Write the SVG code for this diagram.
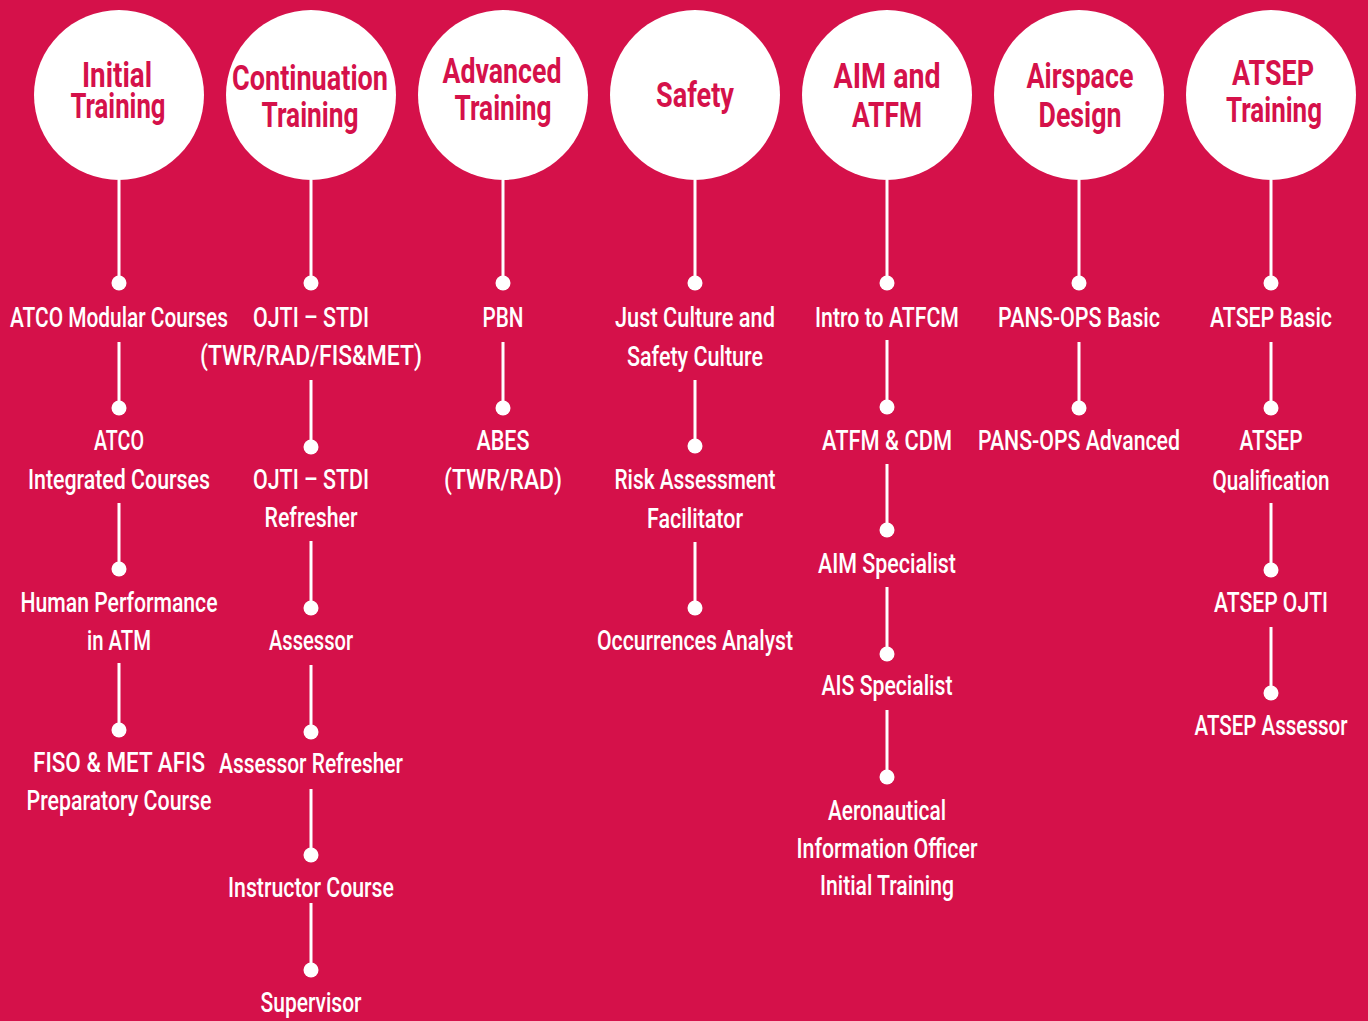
<svg xmlns="http://www.w3.org/2000/svg" width="1368" height="1021" viewBox="0 0 1368 1021">
<style>
.bg{fill:#D5114A}
.hc{fill:#FFFFFF}
.ht{font-family:Roboto,"Liberation Sans",sans-serif;font-weight:700;font-size:35px;fill:#D5114A;text-anchor:middle}
.it{font-family:Roboto,"Liberation Sans",sans-serif;font-weight:500;font-size:28px;fill:#FFFFFF;text-anchor:middle}
.ln{stroke:#FFFFFF;stroke-width:3;fill:none}
.dt{fill:#FFFFFF}
</style>
<rect class="bg" x="0" y="0" width="1368" height="1021"/>
<g id="connectors">
<path class="ln" d="M119 180V283M119 342V408M119 503V569M119 663V730"/>
<path class="ln" d="M311 180V283M311 380V447M311 541V608M311 665V732M311 789V855M311 903V970"/>
<path class="ln" d="M503 180V283M503 342V408"/>
<path class="ln" d="M695 180V283M695 380V446M695 542V608"/>
<path class="ln" d="M887 180V283M887 340V407M887 464V530M887 587V654M887 710V777"/>
<path class="ln" d="M1079 180V283M1079 342V408"/>
<path class="ln" d="M1271 180V283M1271 342V408M1271 503V570M1271 627V693"/>
</g>
<g id="h-initial"><circle class="hc" cx="119" cy="95" r="85"/>
<text class="ht" x="117" y="87" textLength="70" lengthAdjust="spacingAndGlyphs">Initial</text>
<text class="ht" x="118" y="118" textLength="95" lengthAdjust="spacingAndGlyphs">Training</text></g>
<g id="h-continuation"><circle class="hc" cx="311" cy="95" r="85"/>
<text class="ht" x="310" y="90" textLength="156" lengthAdjust="spacingAndGlyphs">Continuation</text>
<text class="ht" x="310" y="127" textLength="97" lengthAdjust="spacingAndGlyphs">Training</text></g>
<g id="h-advanced"><circle class="hc" cx="503" cy="95" r="85"/>
<text class="ht" x="502" y="83" textLength="119" lengthAdjust="spacingAndGlyphs">Advanced</text>
<text class="ht" x="503" y="120" textLength="97" lengthAdjust="spacingAndGlyphs">Training</text></g>
<g id="h-safety"><circle class="hc" cx="695" cy="95" r="85"/>
<text class="ht" x="695" y="107" textLength="78" lengthAdjust="spacingAndGlyphs">Safety</text></g>
<g id="h-aim"><circle class="hc" cx="887" cy="95" r="85"/>
<text class="ht" x="887" y="88" textLength="107" lengthAdjust="spacingAndGlyphs">AIM and</text>
<text class="ht" x="887" y="127" textLength="70" lengthAdjust="spacingAndGlyphs">ATFM</text></g>
<g id="h-airspace"><circle class="hc" cx="1079" cy="95" r="85"/>
<text class="ht" x="1080" y="88" textLength="107" lengthAdjust="spacingAndGlyphs">Airspace</text>
<text class="ht" x="1080" y="127" textLength="83" lengthAdjust="spacingAndGlyphs">Design</text></g>
<g id="h-atsep"><circle class="hc" cx="1271" cy="95" r="85"/>
<text class="ht" x="1273" y="85" textLength="82" lengthAdjust="spacingAndGlyphs">ATSEP</text>
<text class="ht" x="1274" y="122" textLength="96" lengthAdjust="spacingAndGlyphs">Training</text></g>

<g id="i-atco-modular"><circle class="dt" cx="119" cy="283" r="7.5"/>
<text class="it" x="119" y="327" textLength="218" lengthAdjust="spacingAndGlyphs">ATCO Modular Courses</text></g>
<g id="i-atco-integrated"><circle class="dt" cx="119" cy="408" r="7.5"/>
<text class="it" x="119" y="450" textLength="50" lengthAdjust="spacingAndGlyphs">ATCO</text>
<text class="it" x="119" y="489" textLength="182" lengthAdjust="spacingAndGlyphs">Integrated Courses</text></g>
<g id="i-human"><circle class="dt" cx="119" cy="569" r="7.5"/>
<text class="it" x="119" y="612" textLength="197" lengthAdjust="spacingAndGlyphs">Human Performance</text>
<text class="it" x="119" y="650" textLength="64" lengthAdjust="spacingAndGlyphs">in ATM</text></g>
<g id="i-fiso"><circle class="dt" cx="119" cy="730" r="7.5"/>
<text class="it" x="119" y="772" textLength="172" lengthAdjust="spacingAndGlyphs">FISO &amp; MET AFIS</text>
<text class="it" x="119" y="810" textLength="185" lengthAdjust="spacingAndGlyphs">Preparatory Course</text></g>

<g id="i-ojti"><circle class="dt" cx="311" cy="283" r="7.5"/>
<text class="it" x="311" y="327" textLength="116" lengthAdjust="spacingAndGlyphs">OJTI – STDI</text>
<text class="it" x="311" y="365" textLength="222" lengthAdjust="spacingAndGlyphs">(TWR/RAD/FIS&amp;MET)</text></g>
<g id="i-ojti-refresher"><circle class="dt" cx="311" cy="447" r="7.5"/>
<text class="it" x="311" y="489" textLength="116" lengthAdjust="spacingAndGlyphs">OJTI – STDI</text>
<text class="it" x="311" y="527" textLength="93" lengthAdjust="spacingAndGlyphs">Refresher</text></g>
<g id="i-assessor"><circle class="dt" cx="311" cy="608" r="7.5"/>
<text class="it" x="311" y="650" textLength="84" lengthAdjust="spacingAndGlyphs">Assessor</text></g>
<g id="i-assessor-refresher"><circle class="dt" cx="311" cy="732" r="7.5"/>
<text class="it" x="311" y="773" textLength="184" lengthAdjust="spacingAndGlyphs">Assessor Refresher</text></g>
<g id="i-instructor"><circle class="dt" cx="311" cy="855" r="7.5"/>
<text class="it" x="311" y="897" textLength="166" lengthAdjust="spacingAndGlyphs">Instructor Course</text></g>
<g id="i-supervisor"><circle class="dt" cx="311" cy="970" r="7.5"/>
<text class="it" x="311" y="1012" textLength="101" lengthAdjust="spacingAndGlyphs">Supervisor</text></g>

<g id="i-pbn"><circle class="dt" cx="503" cy="283" r="7.5"/>
<text class="it" x="503" y="327" textLength="41" lengthAdjust="spacingAndGlyphs">PBN</text></g>
<g id="i-abes"><circle class="dt" cx="503" cy="408" r="7.5"/>
<text class="it" x="503" y="450" textLength="53" lengthAdjust="spacingAndGlyphs">ABES</text>
<text class="it" x="503" y="489" textLength="118" lengthAdjust="spacingAndGlyphs">(TWR/RAD)</text></g>

<g id="i-just"><circle class="dt" cx="695" cy="283" r="7.5"/>
<text class="it" x="695" y="327" textLength="160" lengthAdjust="spacingAndGlyphs">Just Culture and</text>
<text class="it" x="695" y="366" textLength="136" lengthAdjust="spacingAndGlyphs">Safety Culture</text></g>
<g id="i-risk"><circle class="dt" cx="695" cy="446" r="7.5"/>
<text class="it" x="695" y="489" textLength="161" lengthAdjust="spacingAndGlyphs">Risk Assessment</text>
<text class="it" x="695" y="528" textLength="96" lengthAdjust="spacingAndGlyphs">Facilitator</text></g>
<g id="i-occurrences"><circle class="dt" cx="695" cy="608" r="7.5"/>
<text class="it" x="695" y="650" textLength="196" lengthAdjust="spacingAndGlyphs">Occurrences Analyst</text></g>

<g id="i-intro"><circle class="dt" cx="887" cy="283" r="7.5"/>
<text class="it" x="887" y="327" textLength="144" lengthAdjust="spacingAndGlyphs">Intro to ATFCM</text></g>
<g id="i-atfm"><circle class="dt" cx="887" cy="407" r="7.5"/>
<text class="it" x="887" y="450" textLength="130" lengthAdjust="spacingAndGlyphs">ATFM &amp; CDM</text></g>
<g id="i-aim"><circle class="dt" cx="887" cy="530" r="7.5"/>
<text class="it" x="887" y="573" textLength="138" lengthAdjust="spacingAndGlyphs">AIM Specialist</text></g>
<g id="i-ais"><circle class="dt" cx="887" cy="654" r="7.5"/>
<text class="it" x="887" y="695" textLength="131" lengthAdjust="spacingAndGlyphs">AIS Specialist</text></g>
<g id="i-aio"><circle class="dt" cx="887" cy="777" r="7.5"/>
<text class="it" x="887" y="820" textLength="118" lengthAdjust="spacingAndGlyphs">Aeronautical</text>
<text class="it" x="887" y="858" textLength="181" lengthAdjust="spacingAndGlyphs">Information Officer</text>
<text class="it" x="887" y="895" textLength="134" lengthAdjust="spacingAndGlyphs">Initial Training</text></g>

<g id="i-pans-basic"><circle class="dt" cx="1079" cy="283" r="7.5"/>
<text class="it" x="1079" y="327" textLength="162" lengthAdjust="spacingAndGlyphs">PANS-OPS Basic</text></g>
<g id="i-pans-advanced"><circle class="dt" cx="1079" cy="408" r="7.5"/>
<text class="it" x="1079" y="450" textLength="202" lengthAdjust="spacingAndGlyphs">PANS-OPS Advanced</text></g>

<g id="i-atsep-basic"><circle class="dt" cx="1271" cy="283" r="7.5"/>
<text class="it" x="1271" y="327" textLength="122" lengthAdjust="spacingAndGlyphs">ATSEP Basic</text></g>
<g id="i-atsep-qual"><circle class="dt" cx="1271" cy="408" r="7.5"/>
<text class="it" x="1271" y="450" textLength="63" lengthAdjust="spacingAndGlyphs">ATSEP</text>
<text class="it" x="1271" y="490" textLength="117" lengthAdjust="spacingAndGlyphs">Qualification</text></g>
<g id="i-atsep-ojti"><circle class="dt" cx="1271" cy="570" r="7.5"/>
<text class="it" x="1271" y="612" textLength="114" lengthAdjust="spacingAndGlyphs">ATSEP OJTI</text></g>
<g id="i-atsep-assessor"><circle class="dt" cx="1271" cy="693" r="7.5"/>
<text class="it" x="1271" y="735" textLength="153" lengthAdjust="spacingAndGlyphs">ATSEP Assessor</text></g>
</svg>
